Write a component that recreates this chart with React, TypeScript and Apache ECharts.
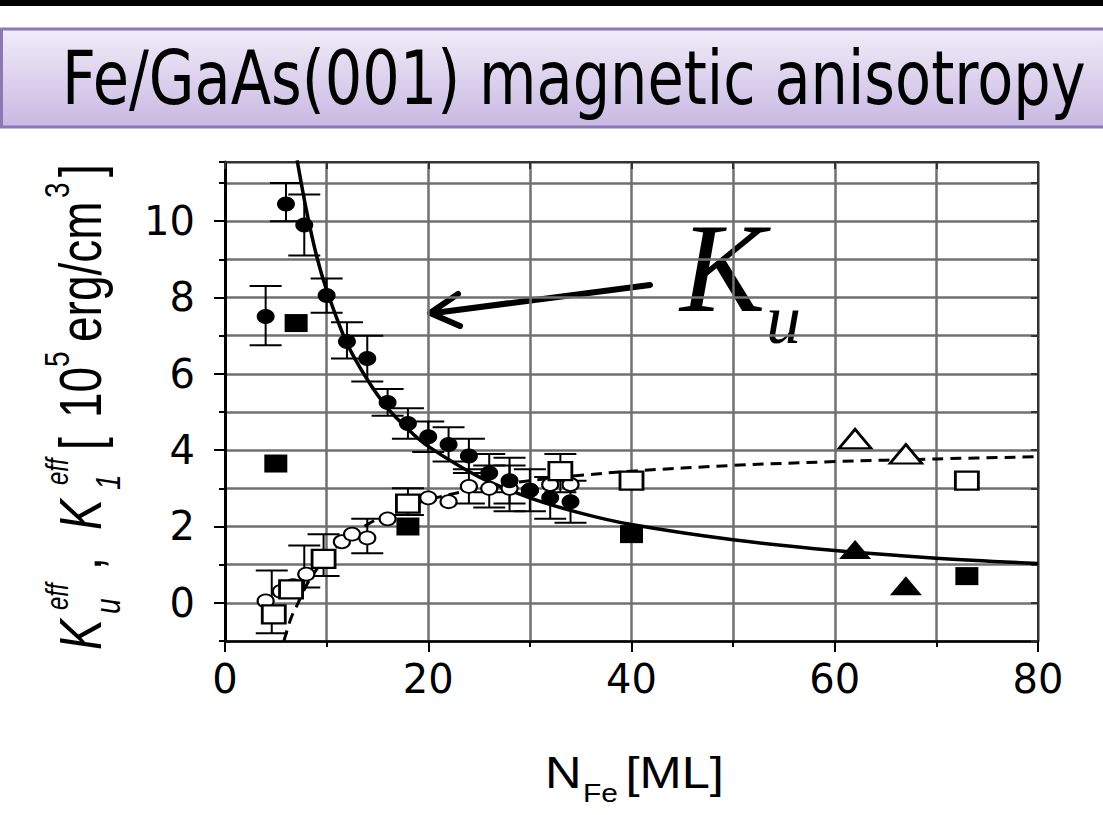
import React, { useEffect, useRef } from "react";
import * as echarts from "echarts";

// ---------- data ----------
const xTickValues = [0, 20, 40, 60, 80];
const yTickValues = [0, 2, 4, 6, 8, 10];

// K_u^eff : filled circles
const kuCircles = [
  [4, 7.5], [6, 10.45], [7.8, 9.9], [10, 8.05], [12, 6.85], [14, 6.4], [16, 5.25],
  [18, 4.7], [20, 4.35], [22, 4.15], [24, 3.85], [26, 3.4], [28, 3.2], [30, 2.95],
  [32, 2.75], [34, 2.65],
];
// error bars for K_u circles: [x, y, low, high]
const kuErrors = [
  [4, 7.5, 6.75, 8.3], [6, 10.45, 10.0, 11.0], [7.8, 9.9, 9.1, 10.7], [10, 8.05, 7.6, 8.5],
  [12, 6.85, 6.4, 7.35], [14, 6.4, 5.8, 7.0], [16, 5.25, 4.9, 5.6], [18, 4.7, 4.3, 5.1],
  [20, 4.35, 3.95, 4.75], [22, 4.15, 3.7, 4.6], [24, 3.85, 3.4, 4.3], [26, 3.4, 2.9, 3.9],
  [28, 3.2, 2.6, 3.8], [30, 2.95, 2.4, 3.5], [32, 2.75, 2.2, 3.3], [34, 2.65, 2.1, 3.2],
];
// K_1^eff : open circles
const k1Circles = [
  [4, 0.05], [5.5, 0.3], [6.7, 0.45], [8, 0.75], [10, 1.15], [11.5, 1.6], [12.5, 1.8],
  [14, 1.7], [16, 2.2], [18, 2.55], [20, 2.75], [22, 2.65], [24, 3.05], [26, 3.0],
  [28, 3.0], [30, 2.95], [32, 3.1], [34, 3.1],
];
const k1Errors = [
  [4.6, -0.3, -0.8, 0.85], [7.8, 0.8, 0.4, 1.5], [9.7, 1.15, 0.7, 1.8], [14, 1.75, 1.3, 2.2],
  [18, 2.6, 2.3, 3.0], [24, 3.05, 2.6, 3.5], [26, 3.1, 2.5, 3.6], [28, 3.0, 2.4, 3.6],
  [33, 3.45, 2.9, 3.9],
];
// filled squares (K_u), open squares (K_1)
const kuSquares = [[5, 3.65], [7, 7.33], [18, 2.0], [40, 1.8], [73, 0.7]];
const k1Squares = [[4.8, -0.3], [6.5, 0.35], [9.7, 1.15], [18, 2.6], [33, 3.45], [40, 3.2], [73, 3.2]];
// filled triangles (K_u), open triangles (K_1)
const kuTriangles = [[62, 1.4], [67, 0.45]];
const k1Triangles = [[62, 4.3], [67, 3.9]];
// fitted curves
const kuFit = [
  [7.1, 11.6], [8, 10.3], [9, 9.1], [10, 8.2], [12, 6.8], [14, 5.85], [16, 5.1], [18, 4.55],
  [20, 4.1], [25, 3.3], [30, 2.75], [35, 2.35], [40, 2.05], [50, 1.65], [60, 1.37],
  [70, 1.17], [80, 1.03],
];
const k1Fit = [
  [5.8, -1], [6.5, -0.4], [7.2, 0], [8, 0.45], [9, 0.87], [10, 1.2], [12, 1.7], [14, 2.05],
  [16, 2.32], [18, 2.53], [20, 2.7], [25, 3.0], [30, 3.2], [35, 3.34], [40, 3.45],
  [50, 3.6], [60, 3.7], [70, 3.77], [80, 3.83],
];

const titleText = "Fe/GaAs(001) magnetic anisotropy";

const errorRender = (params: any, api: any) => {
  const x = api.value(0);
  const top = api.coord([x, api.value(3)]);
  const bot = api.coord([x, api.value(2)]);
  const half = 16;
  const style = { stroke: "#000", lineWidth: 2 };
  return {
    type: "group",
    children: [
      { type: "line", shape: { x1: top[0], y1: top[1], x2: bot[0], y2: bot[1] }, style },
      { type: "line", shape: { x1: top[0] - half, y1: top[1], x2: top[0] + half, y2: top[1] }, style },
      { type: "line", shape: { x1: bot[0] - half, y1: bot[1], x2: bot[0] + half, y2: bot[1] }, style },
    ],
  };
};

const SANS = "Liberation Sans";
const txt = (text: string, x: number, y: number, size: number, italic = false) => ({
  type: "text",
  style: {
    text,
    x,
    y,
    fontSize: size,
    fontFamily: SANS,
    fontStyle: italic ? "italic" : "normal",
    fill: "#000",
    textAlign: "left",
    textVerticalAlign: "middle",
  },
});

export default function App() {
  const ref = useRef<HTMLDivElement>(null);
  useEffect(() => {
    const chart = echarts.init(ref.current!, null, { renderer: "svg" });
    const gridLine = { show: true, lineStyle: { color: "#707070", width: 2.5 } };
    const yMin = -1;
    const yMax = 11.55;
    const openStyle = { color: "#fff", borderColor: "#000", borderWidth: 2.5, opacity: 1 };
    const fillStyle = { color: "#000", opacity: 1 };
    const option: any = {
      animation: false,
      backgroundColor: "#fff",
      grid: { left: 225, right: 65, top: 162, bottom: 174 },
      xAxis: [
        {
          type: "value", min: 0, max: 80, interval: 20, position: "bottom",
          axisLine: { show: true, onZero: false, lineStyle: { color: "#000", width: 2.5 } },
          axisTick: { show: true, length: 11, lineStyle: { color: "#000", width: 2 } },
          minorTick: { show: true, splitNumber: 2, length: 6, lineStyle: { color: "#000", width: 2 } },
          axisLabel: {
            fontSize: 40, fontFamily: "DejaVu Sans", color: "#000", margin: 18,
            formatter: (v: number) => (xTickValues.includes(v) ? String(v) : ""),
          },
          splitLine: gridLine,
          minorSplitLine: gridLine,
        },
        {
          type: "value", min: 0, max: 80, interval: 10, position: "top",
          axisLine: { show: true, onZero: false, lineStyle: { color: "#333", width: 2 } },
          axisTick: { show: true, inside: true, length: 7, lineStyle: { color: "#333", width: 2 } },
          axisLabel: { show: false }, splitLine: { show: false },
        },
      ],
      yAxis: [
        {
          type: "value", min: yMin, max: yMax, interval: 1, position: "left",
          axisLine: { show: true, onZero: false, lineStyle: { color: "#000", width: 3 } },
          axisTick: { show: true, length: 6, lineStyle: { color: "#000", width: 2 } },
          axisLabel: {
            fontSize: 40, fontFamily: "DejaVu Sans", color: "#000", margin: 30,
            formatter: (v: number) => (yTickValues.includes(v) ? String(v) : ""),
          },
          splitLine: gridLine,
        },
        {
          type: "value", min: yMin, max: yMax, interval: 1, position: "left", offset: 0,
          axisLine: { show: false },
          axisTick: { show: true, length: 11, customValues: yTickValues, lineStyle: { color: "#000", width: 2 } },
          axisLabel: { show: false }, splitLine: { show: false },
        },
        {
          type: "value", min: yMin, max: yMax, interval: 1, position: "right",
          axisLine: { show: true, onZero: false, lineStyle: { color: "#333", width: 2 } },
          axisTick: { show: true, inside: true, length: 7, lineStyle: { color: "#333", width: 2 } },
          axisLabel: { show: false }, splitLine: { show: false },
        },
      ],
      series: [
        {
          type: "line", data: kuFit, smooth: 0.35, showSymbol: false, symbol: "none",
          lineStyle: { color: "#000", width: 3.5 }, z: 3,
        },
        {
          type: "line", data: k1Fit, smooth: 0.35, showSymbol: false, symbol: "none",
          lineStyle: { color: "#000", width: 3, type: [11, 7] }, z: 3,
        },
        { type: "custom", data: kuErrors, renderItem: errorRender, encode: { x: 0, y: 1 }, z: 4 },
        { type: "custom", data: k1Errors, renderItem: errorRender, encode: { x: 0, y: 1 }, z: 4 },
        {
          type: "scatter", data: k1Circles, symbol: "circle", symbolSize: [16, 13],
          itemStyle: { ...openStyle, borderWidth: 2 }, z: 5,
        },
        {
          type: "scatter", data: kuCircles, symbol: "circle", symbolSize: [18, 15],
          itemStyle: fillStyle, z: 6,
        },
        {
          type: "scatter", data: k1Squares, symbol: "rect", symbolSize: [23, 18],
          itemStyle: openStyle, z: 5,
        },
        {
          type: "scatter", data: kuSquares, symbol: "rect", symbolSize: [23, 18],
          itemStyle: fillStyle, z: 6,
        },
        {
          type: "scatter", data: k1Triangles, symbol: "triangle", symbolSize: [32, 19],
          itemStyle: openStyle, z: 5,
        },
        {
          type: "scatter", data: kuTriangles, symbol: "triangle", symbolSize: [32, 19],
          itemStyle: fillStyle, z: 6,
        },
      ],
      graphic: [
        { type: "rect", shape: { x: 0, y: 0, width: 1103, height: 6 }, style: { fill: "#000" } },
        {
          type: "rect",
          shape: { x: 1.5, y: 29, width: 1110, height: 98 },
          style: {
            fill: new echarts.graphic.LinearGradient(0, 0, 0, 1, [
              { offset: 0, color: "#f1ecf8" },
              { offset: 1, color: "#c8b8e2" },
            ]),
            stroke: "#8a79b3",
            lineWidth: 3,
          },
        },
        {
          type: "text", x: 62, y: 79, scaleX: 0.797,
          style: {
            text: titleText, fontSize: 74, fontFamily: "DejaVu Sans", fill: "#000",
            textAlign: "left", textVerticalAlign: "middle",
          },
        },
        // K_u annotation with arrow
        {
          type: "line", shape: { x1: 650, y1: 285, x2: 434, y2: 313 },
          style: { stroke: "#000", lineWidth: 6, lineCap: "round" },
        },
        {
          type: "polyline", shape: { points: [[458, 294], [430, 313], [460, 326]] },
          style: { stroke: "#000", lineWidth: 6, lineCap: "round", lineJoin: "round", fill: null },
        },
        {
          type: "text", x: 680, y: 268,
          style: {
            text: "K", fontSize: 128, fontFamily: "Liberation Serif", fontStyle: "italic",
            fill: "#000", textAlign: "left", textVerticalAlign: "middle",
          },
        },
        {
          type: "text", x: 766, y: 319,
          style: {
            text: "u", fontSize: 70, fontFamily: "Liberation Serif", fontStyle: "italic",
            fill: "#000", textAlign: "left", textVerticalAlign: "middle",
          },
        },
        // y-axis title (rotated)
        {
          type: "group", x: 80, y: 650, rotation: Math.PI / 2, scaleY: 1.28,
          children: [
            txt("K", 0, 0, 46, true),
            txt("eff", 40, -18, 24, true),
            txt("u", 36, 22, 28, true),
            txt(",", 80, 0, 46),
            txt("K", 120, 0, 46, true),
            txt("eff", 165, -18, 24, true),
            txt("1", 160, 22, 28, true),
            txt("[", 200, 0, 46),
            txt("10", 232, 0, 46),
            txt("5", 283, -18, 28),
            txt("erg/cm", 308, 0, 46),
            txt("3", 452, -18, 28),
            txt("]", 473, 0, 46),
          ],
        },
        // x-axis title
        {
          type: "group", x: 545, y: 773, scaleX: 1.15,
          children: [
            txt("N", 0, 0, 44),
            txt("Fe", 33, 20, 26),
            txt("[ML]", 70, 0, 44),
          ],
        },
      ],
    };
    chart.setOption(option);
    return () => chart.dispose();
  }, []);
  return (
    <div
      ref={ref}
      style={{ position: "fixed", left: 0, top: 0, width: 1103, height: 815, background: "#fff" }}
    />
  );
}
